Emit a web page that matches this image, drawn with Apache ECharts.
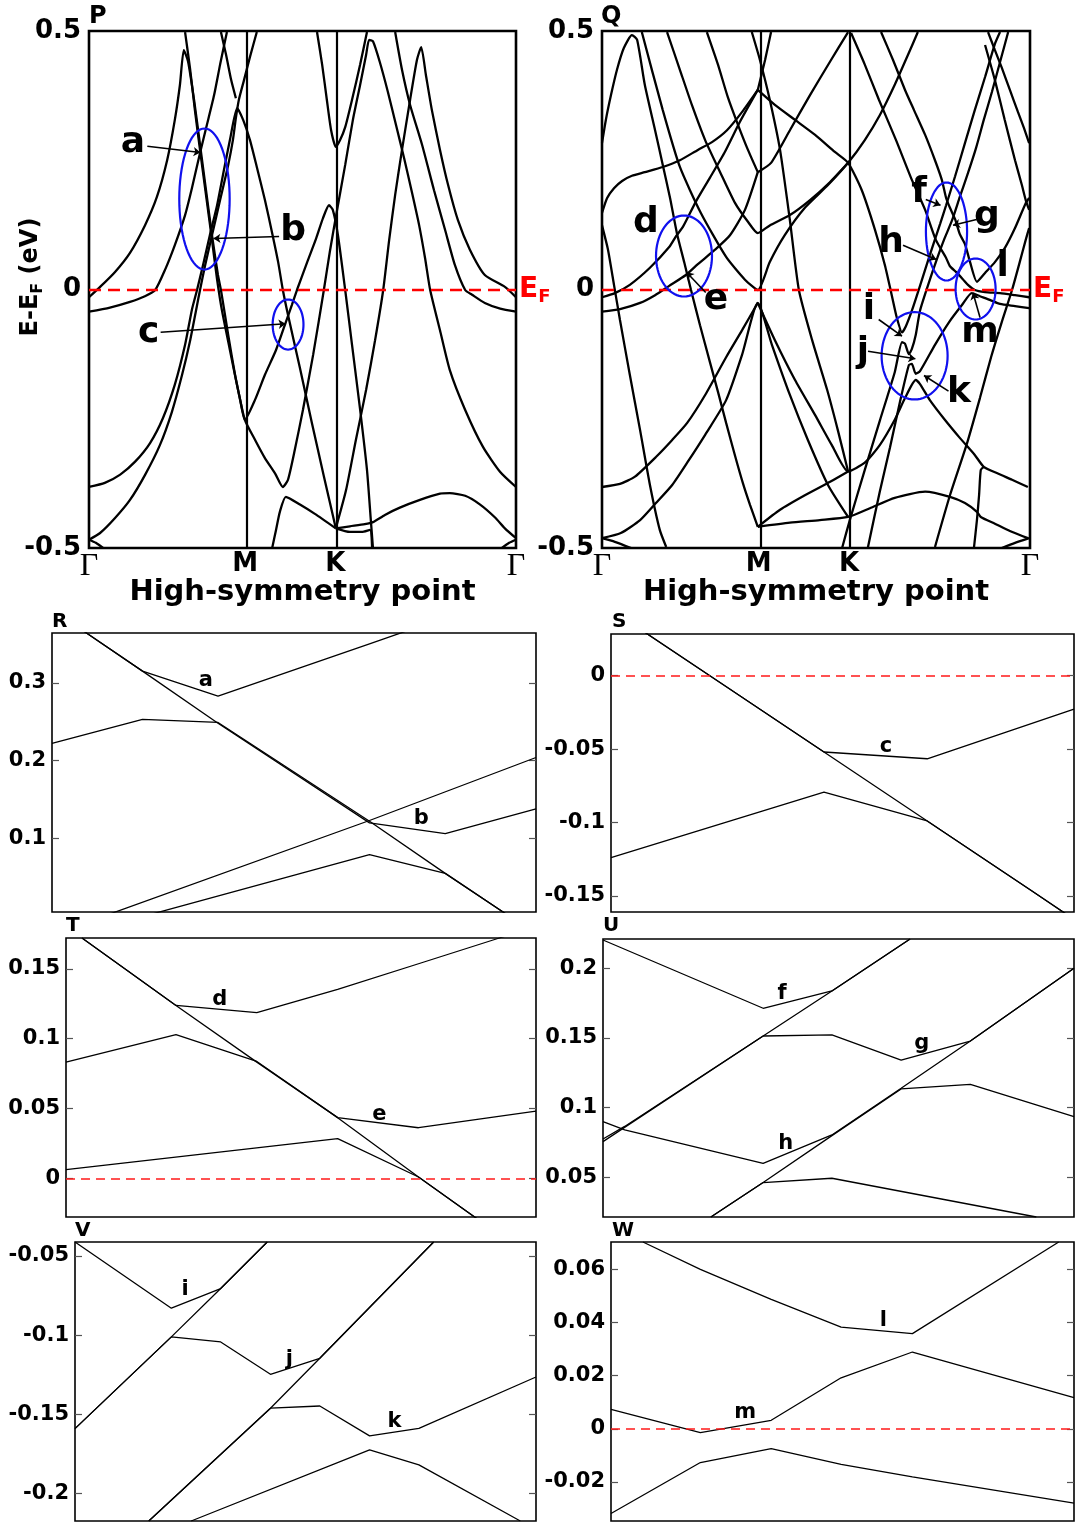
<!DOCTYPE html>
<html><head><meta charset="utf-8">
<script src="https://cdn.jsdelivr.net/npm/echarts@6/dist/echarts.min.js"></script>
<style>html,body{margin:0;padding:0;background:#fff}#c{width:1077px;height:1523px}</style>
</head><body><div id="c"></div>
<script>
// Path positions of the high-symmetry points (fraction of the Γ–M–K–Γ path)
const kM = 0.366, kK = 0.577;
const symTicks = [0, kM, kK, 1];
const symNames = ['Γ', 'M', 'K', 'Γ'];

// Band structure P: each band is a list of [k, E-EF (eV)]
const bandsP = [
  [[0,-0.015],[0.026,0.005],[0.061,0.034],[0.096,0.071],[0.131,0.124],[0.159,0.179],[0.183,0.250],[0.201,0.328],[0.213,0.396],[0.222,0.463],[0.232,0.441],[0.246,0.367],[0.260,0.280],[0.274,0.192],[0.288,0.105],[0.302,0.028],[0.309,-0.001],[0.326,-0.088],[0.342,-0.165],[0.354,-0.213],[0.365,-0.252],[0.389,-0.213],[0.412,-0.165],[0.438,-0.117],[0.461,-0.063],[0.475,-0.030],[0.487,-0.001],[0.511,0.053],[0.532,0.099],[0.548,0.138],[0.562,0.163],[0.571,0.154],[0.583,0.105],[0.600,-0.001],[0.616,-0.107],[0.635,-0.233],[0.651,-0.349],[0.660,-0.446],[0.665,-0.500]],
  [[0,-0.043],[0.049,-0.035],[0.096,-0.024],[0.131,-0.013],[0.155,-0.001],[0.178,0.038],[0.201,0.086],[0.225,0.144],[0.241,0.196],[0.260,0.264],[0.276,0.318],[0.293,0.376],[0.307,0.435],[0.323,0.498]],
  [[0.225,0.498],[0.237,0.425],[0.248,0.347],[0.260,0.270],[0.274,0.183],[0.288,0.096],[0.300,0.019],[0.311,-0.039],[0.330,-0.117],[0.349,-0.194],[0.365,-0.252],[0.389,-0.291],[0.412,-0.326],[0.436,-0.356],[0.454,-0.382],[0.466,-0.368],[0.482,-0.310],[0.501,-0.233],[0.525,-0.126],[0.550,-0.001],[0.564,0.073],[0.578,0.140],[0.600,0.241],[0.618,0.328],[0.635,0.396],[0.649,0.454],[0.656,0.483],[0.665,0.480],[0.681,0.440],[0.700,0.382],[0.719,0.318],[0.738,0.254],[0.756,0.189],[0.773,0.125],[0.787,0.061],[0.799,-0.001],[0.822,-0.079],[0.845,-0.156],[0.881,-0.233],[0.923,-0.305],[0.963,-0.353],[1.0,-0.382]],
  [[0,-0.382],[0.037,-0.374],[0.073,-0.358],[0.108,-0.333],[0.143,-0.297],[0.173,-0.249],[0.201,-0.184],[0.225,-0.107],[0.241,-0.039],[0.253,-0.001],[0.267,0.047],[0.283,0.105],[0.300,0.163],[0.316,0.231],[0.330,0.289],[0.347,0.351],[0.361,0.328],[0.377,0.289],[0.393,0.237],[0.412,0.173],[0.429,0.109],[0.443,0.053],[0.454,-0.001],[0.466,-0.049],[0.494,-0.152],[0.522,-0.258],[0.550,-0.361],[0.578,-0.462]],
  [[0,-0.484],[0.026,-0.471],[0.061,-0.442],[0.096,-0.407],[0.131,-0.359],[0.166,-0.301],[0.194,-0.237],[0.218,-0.165],[0.237,-0.098],[0.251,-0.039],[0.260,-0.001],[0.272,0.047],[0.288,0.105],[0.307,0.173],[0.326,0.241],[0.337,0.289],[0.344,0.332],[0.351,0.367],[0.363,0.405],[0.377,0.450],[0.393,0.498]],
  [[0.309,0.498],[0.321,0.454],[0.333,0.405],[0.344,0.370]],
  [[1.0,-0.015],[0.974,0.005],[0.927,0.028],[0.892,0.077],[0.864,0.134],[0.841,0.202],[0.822,0.270],[0.803,0.347],[0.789,0.415],[0.778,0.469],[0.768,0.444],[0.752,0.367],[0.733,0.270],[0.717,0.183],[0.703,0.096],[0.689,-0.001],[0.670,-0.098],[0.649,-0.194],[0.625,-0.291],[0.602,-0.388],[0.578,-0.462]],
  [[1.0,-0.043],[0.963,-0.037],[0.927,-0.026],[0.897,-0.010],[0.881,-0.001],[0.857,0.047],[0.834,0.115],[0.808,0.192],[0.780,0.280],[0.752,0.357],[0.733,0.425],[0.717,0.498]],
  [[0.534,0.498],[0.546,0.435],[0.557,0.367],[0.567,0.308],[0.578,0.276],[0.588,0.289],[0.600,0.314],[0.616,0.367],[0.635,0.435],[0.651,0.498]],
  [[0.429,-0.500],[0.438,-0.465],[0.447,-0.430],[0.461,-0.401],[0.494,-0.416],[0.529,-0.434],[0.578,-0.462]],
  [[0.578,-0.462],[0.611,-0.458],[0.646,-0.454],[0.665,-0.450],[0.693,-0.436],[0.728,-0.422],[0.775,-0.407],[0.822,-0.395],[0.845,-0.394],[0.881,-0.399],[0.916,-0.416],[0.951,-0.441],[0.974,-0.462],[1.0,-0.481]],
  [[0.578,-0.462],[0.611,-0.469],[0.639,-0.469],[0.658,-0.465],[0.663,-0.500]],
  [[0,-0.484],[0.016,-0.490],[0.033,-0.500]],
  [[1.0,-0.484],[0.984,-0.490],[0.967,-0.500]]
];

// Band structure Q
const bandsQ = [
  [[0,0.283],[0.009,0.328],[0.021,0.376],[0.035,0.425],[0.051,0.467],[0.070,0.492],[0.082,0.483],[0.100,0.396],[0.124,0.308],[0.142,0.241],[0.159,0.177],[0.175,0.109],[0.192,0.053],[0.208,-0.001],[0.229,-0.069],[0.252,-0.140],[0.271,-0.198],[0.290,-0.258],[0.311,-0.322],[0.329,-0.374],[0.346,-0.417],[0.364,-0.459]],
  [[0.364,-0.459],[0.439,-0.451],[0.509,-0.446],[0.575,-0.440],[0.626,-0.423],[0.684,-0.403],[0.755,-0.391],[0.813,-0.401],[0.848,-0.413],[0.876,-0.430],[0.885,-0.440],[0.918,-0.453],[0.953,-0.467],[0.995,-0.481]],
  [[0.364,-0.026],[0.404,-0.098],[0.451,-0.175],[0.498,-0.243],[0.537,-0.301],[0.575,-0.352],[0.614,-0.335],[0.649,-0.301],[0.684,-0.252],[0.708,-0.210],[0.733,-0.175],[0.743,-0.183],[0.766,-0.214],[0.801,-0.252],[0.836,-0.287],[0.871,-0.320],[0.892,-0.343],[0.925,-0.356],[0.958,-0.368],[0.995,-0.382]],
  [[0.350,0.498],[0.369,0.444],[0.392,0.367],[0.416,0.270],[0.439,0.134],[0.460,-0.001],[0.491,-0.098],[0.526,-0.194],[0.551,-0.272],[0.575,-0.352]],
  [[0.364,-0.459],[0.416,-0.426],[0.474,-0.398],[0.533,-0.372],[0.575,-0.352]],
  [[0,-0.382],[0.042,-0.376],[0.077,-0.362],[0.126,-0.324],[0.164,-0.291],[0.199,-0.258],[0.241,-0.204],[0.290,-0.131],[0.327,-0.079],[0.364,-0.026]],
  [[0,-0.481],[0.044,-0.471],[0.089,-0.446],[0.126,-0.413],[0.164,-0.378],[0.199,-0.335],[0.241,-0.281],[0.290,-0.214],[0.327,-0.127],[0.364,-0.026],[0.397,-0.107],[0.439,-0.204],[0.481,-0.291],[0.528,-0.378],[0.575,-0.440]],
  [[0,0.124],[0.014,0.077],[0.028,0.009],[0.042,-0.059],[0.065,-0.165],[0.089,-0.272],[0.112,-0.378],[0.135,-0.465],[0.150,-0.498]],
  [[0,0.148],[0.012,0.177],[0.028,0.196],[0.047,0.210],[0.070,0.220],[0.100,0.227],[0.142,0.237],[0.182,0.250],[0.224,0.270],[0.257,0.285],[0.292,0.308],[0.327,0.343],[0.364,0.386]],
  [[0,-0.015],[0.030,-0.007],[0.065,0.009],[0.112,0.042],[0.157,0.082],[0.173,0.103],[0.189,0.121],[0.220,0.171],[0.252,0.216],[0.287,0.266],[0.322,0.324],[0.364,0.386]],
  [[0,-0.043],[0.042,-0.038],[0.089,-0.026],[0.124,-0.011],[0.157,0.007],[0.196,0.028],[0.224,0.049],[0.264,0.077],[0.299,0.105],[0.334,0.154],[0.364,0.227]],
  [[0.093,0.498],[0.142,0.347],[0.182,0.237],[0.231,0.148],[0.290,0.063],[0.334,0.019],[0.364,-0.001],[0.392,0.053],[0.427,0.105],[0.474,0.158],[0.528,0.202],[0.575,0.245],[0.614,0.289],[0.649,0.337],[0.684,0.396],[0.715,0.454],[0.738,0.498]],
  [[0.152,0.498],[0.182,0.425],[0.210,0.357],[0.241,0.289],[0.276,0.227],[0.311,0.167],[0.341,0.131],[0.364,0.109],[0.392,0.124],[0.439,0.144],[0.486,0.173],[0.533,0.208],[0.575,0.245]],
  [[0.245,0.498],[0.271,0.435],[0.294,0.372],[0.318,0.318],[0.341,0.270],[0.364,0.227]],
  [[0.364,0.386],[0.381,0.444],[0.395,0.498]],
  [[0.364,0.227],[0.395,0.245],[0.439,0.308],[0.486,0.376],[0.533,0.441],[0.575,0.498]],
  [[0.364,0.386],[0.404,0.357],[0.451,0.328],[0.498,0.299],[0.544,0.266],[0.575,0.245],[0.607,0.192],[0.638,0.115],[0.661,0.047],[0.677,-0.011],[0.689,-0.055],[0.701,-0.083],[0.710,-0.071],[0.724,-0.041],[0.743,0.007],[0.766,0.067],[0.790,0.127],[0.804,0.163],[0.825,0.219],[0.848,0.283],[0.871,0.347],[0.895,0.411],[0.918,0.475],[0.930,0.498]],
  [[0.561,-0.500],[0.579,-0.446],[0.614,-0.349],[0.649,-0.254],[0.684,-0.160],[0.701,-0.102],[0.708,-0.105],[0.717,-0.125],[0.724,-0.115],[0.733,-0.088],[0.743,-0.041],[0.762,0.009],[0.780,0.053],[0.799,0.096],[0.818,0.134],[0.836,0.179],[0.855,0.225],[0.874,0.274],[0.892,0.328],[0.911,0.382],[0.930,0.440],[0.949,0.498]],
  [[0.621,-0.500],[0.649,-0.391],[0.673,-0.305],[0.696,-0.218],[0.717,-0.146],[0.724,-0.144],[0.733,-0.163],[0.743,-0.158],[0.778,-0.107],[0.811,-0.063],[0.841,-0.030],[0.864,-0.007],[0.883,-0.013],[0.906,-0.020],[0.930,-0.028],[0.965,-0.032],[0.998,-0.036]],
  [[0.582,0.496],[0.614,0.435],[0.647,0.367],[0.687,0.289],[0.724,0.212],[0.755,0.154],[0.780,0.096],[0.804,0.061],[0.813,0.045],[0.827,0.034],[0.843,0.020],[0.855,0.009],[0.871,-0.001],[0.895,-0.005],[0.930,-0.007],[0.965,-0.011],[0.998,-0.015]],
  [[0.652,0.498],[0.680,0.444],[0.708,0.386],[0.729,0.347],[0.755,0.299],[0.778,0.250],[0.794,0.212],[0.804,0.177],[0.813,0.158],[0.825,0.136],[0.836,0.107],[0.848,0.088],[0.860,0.053],[0.876,0.015],[0.895,0.032],[0.918,0.053],[0.941,0.080],[0.965,0.119],[0.990,0.167],[0.998,0.177]],
  [[0.998,0.283],[0.986,0.312],[0.972,0.343],[0.953,0.386],[0.934,0.429],[0.918,0.463],[0.902,0.498]],
  [[0.895,0.473],[0.918,0.405],[0.941,0.328],[0.965,0.250],[0.981,0.202],[0.990,0.173],[0.998,0.154]],
  [[0.778,-0.498],[0.813,-0.398],[0.853,-0.297],[0.883,-0.210],[0.909,-0.131],[0.934,-0.063],[0.958,-0.001],[0.976,0.053],[0.990,0.096],[0.998,0.119]],
  [[0.869,-0.500],[0.876,-0.446],[0.881,-0.398],[0.885,-0.349],[0.892,-0.343]],
  [[0,-0.481],[0.030,-0.488],[0.068,-0.500]],
  [[0.998,-0.481],[0.965,-0.490],[0.934,-0.500]]
];

// Zoomed windows R–W (x: position inside the window, y: E-EF in eV)
const bandsR = [
  [[0.031,0.381],[0.187,0.315],[0.343,0.283],[0.656,0.350],[0.8125,0.384]],
  [[0.031,0.381],[0.187,0.315],[0.343,0.248],[0.656,0.120],[0.8125,0.106],[1.0,0.138]],
  [[0,0.222],[0.187,0.253],[0.343,0.249],[0.656,0.122],[0.8125,0.055],[0.969,-0.01]],
  [[0.031,-0.017],[0.656,0.123],[1.0,0.204]],
  [[0.031,-0.027],[0.656,0.079],[0.8125,0.055],[0.969,-0.01]]
];
const bandsS = [
  [[0.014,0.042],[0.237,-0.005],[0.46,-0.052],[0.683,-0.0566],[1.0,-0.0228]],
  [[0.014,0.042],[0.237,-0.005],[0.46,-0.052],[0.683,-0.099],[0.906,-0.146],[1.0,-0.166]],
  [[0,-0.124],[0.237,-0.101],[0.46,-0.0794],[0.683,-0.099],[0.906,-0.146],[1.0,-0.166]]
];
const bandsT = [
  [[0.034,0.172],[0.234,0.1238],[0.406,0.1186],[0.578,0.1352],[0.75,0.1536],[0.922,0.172],[1.0,0.18]],
  [[0.034,0.172],[0.234,0.1238],[0.406,0.0833],[0.578,0.0436],[0.75,0.0012],[0.922,-0.04]],
  [[0,0.0833],[0.234,0.1029],[0.406,0.0838],[0.578,0.0436],[0.75,0.0364],[1.0,0.0483]],
  [[0,0.0064],[0.578,0.0286],[0.75,0.0012],[0.922,-0.04]]
];
const bandsU = [
  [[0,0.2203],[0.34,0.1713],[0.486,0.1837],[0.652,0.221]],
  [[0,0.0756],[0.34,0.1514],[0.486,0.1522],[0.633,0.134],[0.78,0.1478],[1.0,0.2]],
  [[0,0.0775],[0.046,0.0865],[0.34,0.1514],[0.486,0.1837],[0.652,0.221]],
  [[0,0.0899],[0.046,0.084],[0.34,0.06],[0.486,0.0804],[0.633,0.1139],[0.78,0.1478],[1.0,0.2]],
  [[0.229,0.0215],[0.34,0.0462],[0.486,0.0799],[0.633,0.1134],[0.78,0.1167],[1.0,0.0935]],
  [[0.229,0.0215],[0.34,0.0462],[0.486,0.0493],[0.92,0.0215]]
];
const bandsV = [
  [[0,-0.0412],[0.209,-0.083],[0.316,-0.0706],[0.417,-0.0412]],
  [[0,-0.159],[0.209,-0.1011],[0.316,-0.1043],[0.424,-0.1247],[0.531,-0.1146],[0.778,-0.0412]],
  [[0,-0.159],[0.209,-0.1011],[0.316,-0.0706],[0.417,-0.0412]],
  [[0.16,-0.2173],[0.424,-0.1461],[0.531,-0.1447],[0.639,-0.1636],[0.746,-0.1588],[1.0,-0.1264]],
  [[0.16,-0.2173],[0.424,-0.1461],[0.531,-0.1146],[0.778,-0.0412]],
  [[0.252,-0.2173],[0.639,-0.1724],[0.746,-0.1819],[0.966,-0.2173]]
];
const bandsW = [
  [[0.069,0.0703],[0.193,0.06],[0.346,0.0487],[0.497,0.0383],[0.651,0.0358],[0.967,0.0703]],
  [[0,0.0073],[0.193,-0.0014],[0.346,0.0032],[0.497,0.0192],[0.651,0.0289],[1.0,0.0117]],
  [[0,-0.0319],[0.193,-0.0127],[0.346,-0.0075],[0.497,-0.0134],[0.651,-0.0181],[1.0,-0.028]]
];

// Tick labels and visible energy ranges of the zoomed windows
const ticksR = [0.1, 0.2, 0.3],            rangeR = [0.0054, 0.364];
const ticksS = [-0.15, -0.1, -0.05, 0],    rangeS = [-0.161, 0.0284];
const ticksT = [0, 0.05, 0.1, 0.15],       rangeT = [-0.0274, 0.172];
const ticksU = [0.05, 0.1, 0.15, 0.2],     rangeU = [0.0215, 0.221];
const ticksV = [-0.2, -0.15, -0.1, -0.05], rangeV = [-0.2173, -0.0412];
const ticksW = [-0.02, 0, 0.02, 0.04, 0.06], rangeW = [-0.0347, 0.0703];

// Anticrossing annotations: [k, E, text]
const labelsP = [[0.1026,0.2843,'a'],[0.478,0.114,'b'],[0.140,-0.0826,'c']];
const labelsQ = [[0.1028,0.1296,'d'],[0.2664,-0.0193,'e'],[0.7407,0.1876,'f'],[0.8995,0.1412,'g'],[0.6752,0.0909,'h'],
                 [0.6238,-0.0387,'i'],[0.6098,-0.1219,'j'],[0.8341,-0.1992,'k'],[0.9362,0.0445,'l'],[0.8832,-0.0832,'m']];
// Arrows: [k0, E0, k1, E1]
const arrowsP = [[0.1366,0.2772,0.2611,0.265],[0.4452,0.1025,0.2914,0.0986],[0.1678,-0.0826,0.4604,-0.0663]];
const arrowsQ = [[0.2423,-0.0058,0.1974,0.0335],[0.7565,0.1741,0.7909,0.1631],[0.875,0.1354,0.8201,0.1244],
                 [0.7033,0.0857,0.7811,0.058],[0.8832,-0.0542,0.8668,-0.0064],[0.6465,-0.058,0.7009,-0.0903],
                 [0.6215,-0.1193,0.7322,-0.134],[0.8096,-0.1967,0.7523,-0.1663]];
// Highlight ellipses: [k, E, half-width in k, half-height in E]
const ellipsesP = [[0.2704,0.175,0.059,0.1364],[0.4662,-0.0677,0.0361,0.0484]];
const ellipsesQ = [[0.1916,0.0648,0.0654,0.0783],[0.8049,0.1122,0.0481,0.0948],[0.8729,0.001,0.0467,0.059],[0.7304,-0.1282,0.0771,0.0845]];

// Labels inside the zoomed windows: [x, E, text]
const labelsR = [[0.318,0.3026,'a'],[0.763,0.125,'b']];
const labelsS = [[0.594,-0.048,'c']];
const labelsT = [[0.327,0.128,'d'],[0.667,0.046,'e']];
const labelsU = [[0.380,0.1816,'f'],[0.677,0.146,'g'],[0.388,0.0744,'h']];
const labelsV = [[0.239,-0.071,'i'],[0.465,-0.1152,'j'],[0.693,-0.1546,'k']];
const labelsW = [[0.588,0.0408,'l'],[0.29,0.0063,'m']];

const FONT = 'DejaVu Sans';
const chart = echarts.init(document.getElementById('c'), null, {renderer: 'canvas'});

const grid = [], xAxis = [], yAxis = [], series = [], graphic = [];

function textSeries(xi, yi, list, size) {
  return {
    type: 'custom', xAxisIndex: xi, yAxisIndex: yi, silent: true, clip: false, z: 6,
    data: list,
    renderItem(params, api) {
      const p = api.coord([api.value(0), api.value(1)]);
      return {type: 'text', x: p[0], y: p[1],
        style: {text: list[params.dataIndex][2], fill: '#000', font: 'bold ' + size + 'px ' + FONT,
                align: 'center', verticalAlign: 'middle', textAlign: 'center', textVerticalAlign: 'middle'}};
    }
  };
}

function ellipseSeries(idx, list) {
  return {
    type: 'custom', xAxisIndex: idx, yAxisIndex: idx, silent: true, clip: false, z: 5,
    data: list,
    renderItem(params, api) {
      const c = api.coord([api.value(0), api.value(1)]);
      const s = api.size([api.value(2), api.value(3)]);
      const pts = [];
      for (let i = 0; i < 73; i++) {
        const t = i / 72 * Math.PI * 2;
        pts.push([c[0] + s[0] * Math.cos(t), c[1] + s[1] * Math.sin(t)]);
      }
      return {type: 'polyline', shape: {points: pts}, style: {stroke: '#1010ee', lineWidth: 2.2, fill: null}};
    }
  };
}

function arrowSeries(idx, list) {
  return {
    type: 'lines', coordinateSystem: 'cartesian2d', xAxisIndex: idx, yAxisIndex: idx, silent: true, z: 6,
    symbol: ['none', 'arrow'], symbolSize: 7,
    lineStyle: {color: '#000', width: 1.6, opacity: 1},
    data: list.map(a => ({coords: [[a[0], a[1]], [a[2], a[3]]]}))
  };
}

// Full band-structure panels
function bigPanel(idx, box, bands, labels, arrows, ellipses) {
  grid.push(Object.assign({show: true, borderColor: '#000', borderWidth: 2.6, backgroundColor: 'transparent',
    containLabel: false, outerBoundsMode: 'none'}, box));
  xAxis.push({
    type: 'value', gridIndex: idx, min: 0, max: 1,
    axisLine: {show: false}, axisTick: {show: false}, splitLine: {show: false},
    axisLabel: {
      customValues: symTicks, margin: 3,
      formatter: v => {
        const i = symTicks.findIndex(t => Math.abs(t - v) < 1e-6);
        const s = symNames[i];
        return s === 'Γ' ? '{g|Γ}' : '{b|' + s + '}';
      },
      rich: {
        g: {fontFamily: 'Liberation Serif', fontSize: 32, color: '#000', fontWeight: 'normal'},
        b: {fontFamily: FONT, fontSize: 26, fontWeight: 'bold', color: '#000'}
      }
    },
    name: 'High-symmetry point', nameLocation: 'middle', nameGap: 30, nameMoveOverlap: false,
    nameTextStyle: {fontFamily: FONT, fontSize: 29, fontWeight: 'bold', color: '#000'}
  });
  yAxis.push({
    type: 'value', gridIndex: idx, min: -0.5, max: 0.5,
    axisLine: {show: false}, axisTick: {show: false}, splitLine: {show: false},
    axisLabel: {customValues: [-0.5, 0, 0.5], margin: 8, color: '#000', fontFamily: FONT, fontSize: 26, fontWeight: 'bold',
      formatter: v => (v === 0 ? '0' : String(v))}
  });
  bands.forEach(b => series.push({
    type: 'line', xAxisIndex: idx, yAxisIndex: idx, data: b, showSymbol: false, smooth: 0.2,
    lineStyle: {color: '#000', width: 2.3}, silent: true, animation: false, z: 3
  }));
  // vertical lines at M and K, Fermi level
  series.push({
    type: 'line', xAxisIndex: idx, yAxisIndex: idx, data: [], silent: true, z: 4,
    markLine: {silent: true, symbol: ['none', 'none'], animation: false,
      data: [
        {xAxis: kM, lineStyle: {color: '#000', width: 2.2, type: 'solid'}, label: {show: false}},
        {xAxis: kK, lineStyle: {color: '#000', width: 2.2, type: 'solid'}, label: {show: false}},
        {yAxis: 0, lineStyle: {color: '#ff0000', width: 2.4, type: [12, 7]},
         label: {show: true, position: 'end', distance: 3, formatter: '{e|E}{f|F}',
           rich: {e: {color: '#ff0000', fontFamily: FONT, fontWeight: 'bold', fontSize: 28},
                  f: {color: '#ff0000', fontFamily: FONT, fontWeight: 'bold', fontSize: 18, padding: [16, 0, 0, 0]}}}}
      ]}
  });
  series.push(ellipseSeries(idx, ellipses));
  series.push(arrowSeries(idx, arrows));
  series.push(textSeries(idx, idx, labels, 36));
}

// Zoomed windows
function smallPanel(idx, box, range, ticks, bands, labels, fermi) {
  grid.push(Object.assign({show: true, borderColor: '#000', borderWidth: 1.6, backgroundColor: 'transparent',
    containLabel: false, outerBoundsMode: 'none'}, box));
  xAxis.push({type: 'value', gridIndex: idx, min: 0, max: 1, show: false});
  const axisCommon = {type: 'value', gridIndex: idx, min: range[0], max: range[1], splitLine: {show: false},
    axisLine: {show: false}};
  const yi = yAxis.length;
  yAxis.push(Object.assign({}, axisCommon, {
    position: 'left',
    axisTick: {show: true, inside: true, length: 7, customValues: ticks, lineStyle: {color: '#555', width: 1.2}},
    axisLabel: {customValues: ticks, margin: 6, color: '#000', fontFamily: FONT, fontSize: 21, fontWeight: 'bold',
      formatter: v => String(Math.round(v * 1000) / 1000)}
  }));
  const ri = yAxis.length;
  yAxis.push(Object.assign({}, axisCommon, {
    position: 'right',
    axisTick: {show: true, inside: true, length: 7, customValues: ticks, lineStyle: {color: '#555', width: 1.2}},
    axisLabel: {show: false}
  }));
  bands.forEach(b => series.push({
    type: 'line', xAxisIndex: idx, yAxisIndex: yi, data: b, showSymbol: false,
    lineStyle: {color: '#000', width: 1.3}, silent: true, animation: false, z: 3
  }));
  series.push({type: 'line', xAxisIndex: idx, yAxisIndex: ri, data: [], silent: true});
  if (fermi) {
    series.push({type: 'line', xAxisIndex: idx, yAxisIndex: yi, data: [], silent: true, z: 4,
      markLine: {silent: true, symbol: ['none', 'none'], animation: false,
        data: [{yAxis: 0, lineStyle: {color: '#ff1a1a', width: 1.5, type: [9, 6]}, label: {show: false}}]}});
  }
  series.push(textSeries(idx, yi, labels, 21));
}

bigPanel(0, {left: 89, top: 31, width: 427, height: 517}, bandsP, labelsP, arrowsP, ellipsesP);
bigPanel(1, {left: 602, top: 31, width: 428, height: 517}, bandsQ, labelsQ, arrowsQ, ellipsesQ);
smallPanel(2, {left: 52, top: 633, width: 484, height: 279}, rangeR, ticksR, bandsR, labelsR, false);
smallPanel(3, {left: 611, top: 634, width: 463, height: 278}, rangeS, ticksS, bandsS, labelsS, true);
smallPanel(4, {left: 66, top: 938, width: 470, height: 279}, rangeT, ticksT, bandsT, labelsT, true);
smallPanel(5, {left: 603, top: 939, width: 471, height: 278}, rangeU, ticksU, bandsU, labelsU, false);
smallPanel(6, {left: 75, top: 1242, width: 461, height: 279}, rangeV, ticksV, bandsV, labelsV, false);
smallPanel(7, {left: 611, top: 1242, width: 463, height: 279}, rangeW, ticksW, bandsW, labelsW, true);

// energy-axis title of panel P (rotated, with subscript F)
graphic.push({
  type: 'text', x: 31, y: 277, rotation: Math.PI / 2,
  style: {
    text: '{n|E-E}{s|F}{n| (eV)}', align: 'center', verticalAlign: 'middle',
    rich: {
      n: {fontFamily: FONT, fontSize: 24, fontWeight: 'bold', fill: '#000'},
      s: {fontFamily: FONT, fontSize: 16, fontWeight: 'bold', fill: '#000', padding: [14, 0, 0, 0]}
    }
  }
});

// panel letters
[['P', 89, 5, 24], ['Q', 601, 5, 24], ['R', 52, 612, 20], ['S', 612, 612, 20], ['T', 66, 916, 20],
 ['U', 603, 916, 20], ['V', 75, 1221, 20], ['W', 612, 1221, 20]].forEach(t => graphic.push({
  type: 'text', left: t[1], top: t[2], style: {text: t[0], font: 'bold ' + t[3] + 'px ' + FONT, fill: '#000'}
}));

chart.setOption({
  animation: false,
  textStyle: {fontFamily: FONT},
  grid, xAxis, yAxis, series, graphic
});
</script>
</body></html>
